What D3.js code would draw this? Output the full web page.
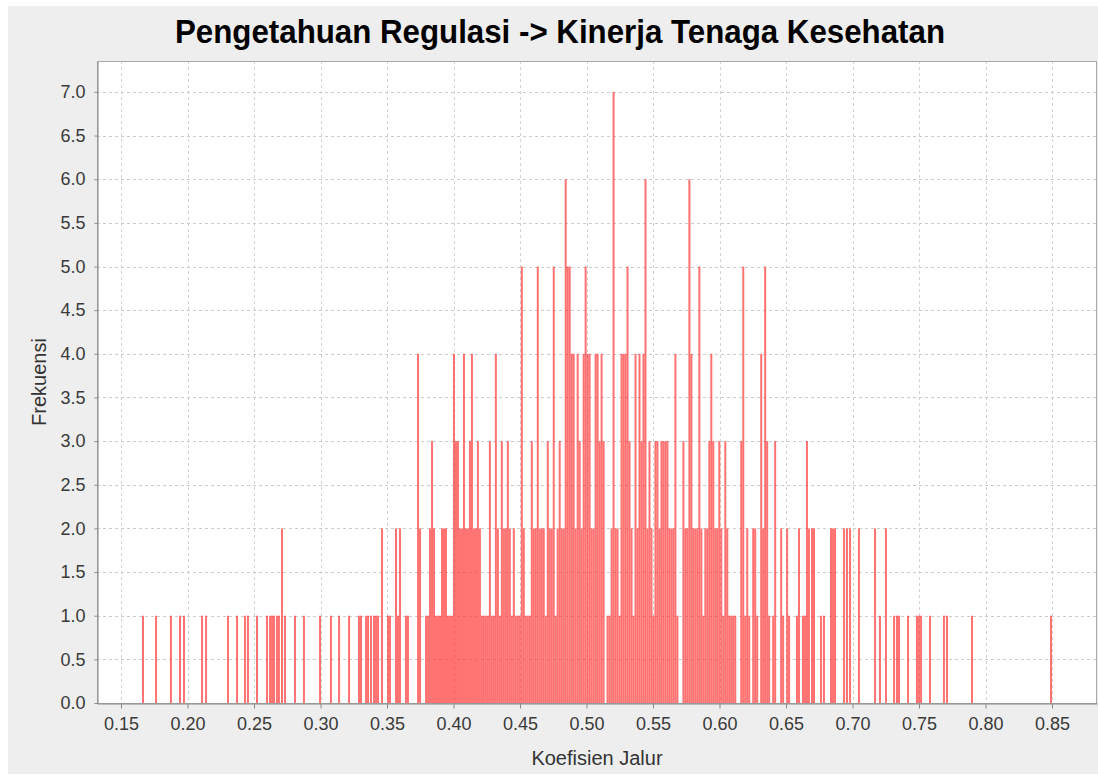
<!DOCTYPE html>
<html>
<head>
<meta charset="utf-8">
<script src="https://cdn.jsdelivr.net/npm/d3@7"></script>
<style>
  body { margin: 0; background: #fff; }
  svg { display: block; }
  text { font-family: "Liberation Sans", Arial, sans-serif; }
</style>
</head>
<body>
<svg id="chart" width="1098" height="781"></svg>
<script>
// data: bin start (koefisien) and frequency per bin
var koefisien = [
  0.1658,0.1756,0.1868,0.1936,0.1966,0.2102,0.2132,0.2297,0.2365,0.2425,0.2447,0.2515,
  0.2590,0.2613,0.2628,0.2643,0.2665,0.2680,0.2703,0.2726,0.2801,0.2868,0.2989,0.3071,
  0.3132,0.3207,0.3282,0.3297,0.3335,0.3350,0.3372,0.3395,0.3410,0.3425,0.3455,0.3500,
  0.3515,0.3560,0.3575,0.3590,0.3635,0.3650,0.3726,0.3741,
  0.3786,0.3801,0.3816,0.3831,0.3846,0.3861,0.3876,0.3891,0.3906,0.3921,
  0.3936,0.3951,0.3966,0.3981,0.3996,0.4011,0.4026,0.4041,0.4056,0.4071,
  0.4086,0.4101,0.4116,0.4131,0.4146,0.4161,0.4176,0.4191,0.4206,0.4221,
  0.4236,0.4251,0.4266,0.4281,0.4296,0.4311,0.4326,0.4341,0.4356,0.4371,
  0.4386,0.4401,0.4416,0.4431,0.4446,0.4461,0.4476,0.4491,0.4506,0.4521,
  0.4536,0.4551,0.4566,0.4581,0.4596,0.4611,0.4626,0.4641,0.4656,0.4671,
  0.4686,0.4701,0.4716,0.4731,0.4746,0.4761,0.4776,0.4791,0.4806,0.4821,
  0.4836,0.4851,0.4866,0.4881,0.4896,0.4911,0.4926,0.4941,0.4956,0.4971,
  0.4986,0.5001,0.5016,0.5031,0.5046,0.5061,0.5076,0.5091,0.5106,0.5121,
  0.5151,0.5166,0.5181,0.5196,0.5211,0.5226,0.5241,0.5256,0.5271,
  0.5286,0.5301,0.5316,0.5331,0.5346,0.5361,0.5376,0.5391,0.5406,0.5421,
  0.5436,0.5451,0.5466,0.5481,0.5496,0.5511,0.5526,0.5541,0.5556,0.5571,
  0.5586,0.5601,0.5616,0.5631,0.5646,0.5661,0.5676,0.5721,
  0.5736,0.5751,0.5766,0.5781,0.5796,0.5811,0.5826,0.5841,0.5856,0.5871,
  0.5886,0.5901,0.5916,0.5931,0.5946,0.5961,0.5976,0.5991,0.6006,
  0.6021,0.6036,0.6051,0.6066,0.6081,0.6096,0.6111,0.6156,0.6171,0.6186,0.6201,0.6216,
  0.6246,0.6261,0.6276,0.6306,0.6321,0.6336,0.6351,0.6366,0.6396,0.6411,0.6456,0.6471,
  0.6501,0.6516,0.6575,0.6590,0.6620,0.6635,0.6650,0.6665,0.6688,0.6703,0.6756,0.6778,
  0.6831,0.6846,0.6861,0.6929,0.6951,0.6974,0.7041,0.7162,0.7199,0.7244,0.7305,0.7327,
  0.7342,0.7410,0.7477,0.7492,0.7508,0.7575,0.7680,0.7703,0.7891,0.8485
];
var frekuensi = [
  1,1,1,1,1,1,1,1,1,1,1,1,
  1,1,1,1,1,1,2,1,1,1,1,1,
  1,1,1,1,1,1,1,1,1,1,2,1,
  1,2,1,2,1,1,4,2,
  1,1,2,3,2,1,1,1,2,2,
  2,1,1,1,4,3,3,2,2,4,
  2,2,3,4,2,2,3,2,1,1,
  1,1,3,1,1,4,2,1,3,2,
  2,3,2,1,2,1,1,1,5,2,
  1,1,1,3,2,2,5,2,2,2,
  1,3,2,2,5,1,2,3,2,2,
  6,5,5,4,4,2,4,3,2,4,
  5,4,4,2,2,4,4,3,4,3,
  1,1,2,7,2,2,1,4,4,
  4,5,3,2,1,4,2,4,3,4,
  6,2,3,2,1,3,3,2,3,3,
  3,3,2,2,2,4,1,3,
  2,2,6,4,2,2,2,5,2,1,
  2,2,3,4,3,2,2,3,2,
  1,3,2,1,1,1,1,3,5,1,2,1,
  2,2,1,4,2,5,3,1,1,3,2,1,
  2,1,1,2,1,1,3,2,2,2,1,1,
  2,2,2,2,2,2,2,2,1,2,1,1,
  1,1,1,1,1,1,1,1,1,1
];
var lebarBin = 0.0015;
var xTicks = [0.15,0.20,0.25,0.30,0.35,0.40,0.45,0.50,0.55,0.60,0.65,0.70,0.75,0.80,0.85];
var yTicks = [0,0.5,1,1.5,2,2.5,3,3.5,4,4.5,5,5.5,6,6.5,7];

var judul = 'Pengetahuan Regulasi -> Kinerja Tenaga Kesehatan';
var labelX = 'Koefisien Jalur';
var labelY = 'Frekuensi';

var svg = d3.select('#chart');
var plotL = 97, plotR = 1097, plotT = 61, plotB = 703;

// background panel
svg.append('rect').attr('x',8).attr('y',6).attr('width',1090).attr('height',768).attr('fill','#eeeeee');

var x = d3.scaleLinear().domain([0.13195,0.88383]).range([plotL,plotR]);
var y = d3.scaleLinear().domain([0,7.354]).range([plotB,plotT]);

svg.append('rect').attr('x',plotL).attr('y',plotT).attr('width',plotR-plotL).attr('height',plotB-plotT)
  .attr('fill','#ffffff');

// grid
svg.append('g').selectAll('line').data(xTicks).join('line')
  .attr('x1',function(d){return Math.round(x(d))+0.5;}).attr('x2',function(d){return Math.round(x(d))+0.5;})
  .attr('y1',plotT).attr('y2',plotB)
  .attr('stroke','#d2d2d2').attr('stroke-dasharray','3,3');
svg.append('g').selectAll('line').data(yTicks.filter(function(d){return d>0;})).join('line')
  .attr('x1',plotL).attr('x2',plotR)
  .attr('y1',function(d){return Math.round(y(d))+0.5;}).attr('y2',function(d){return Math.round(y(d))+0.5;})
  .attr('stroke','#cccccc').attr('stroke-dasharray','3,3');

// bars
var data = koefisien.map(function(k,i){return {k:k,f:frekuensi[i]};});
svg.append('g').selectAll('rect').data(data).join('rect')
  .attr('x',function(d){return x(d.k);})
  .attr('width',function(d){return Math.max(1,x(d.k+lebarBin)-x(d.k));})
  .attr('y',function(d){return y(d.f);})
  .attr('height',function(d){return y(0)-y(d.f);})
  .attr('fill','#ff3b3b').attr('fill-opacity',0.72);

// border
svg.append('rect').attr('x',plotL+0.5).attr('y',plotT+0.5).attr('width',plotR-plotL-1).attr('height',plotB-plotT)
  .attr('fill','none').attr('stroke','#a8a8a8');

// axes
var gx = svg.append('g').attr('transform','translate(0,'+(plotB+0.5)+')')
  .call(d3.axisBottom(x).tickValues(xTicks).tickFormat(d3.format('.2f')).tickSize(5).tickSizeOuter(0).tickPadding(9));
var gy = svg.append('g').attr('transform','translate('+(plotL+0.5)+',0)')
  .call(d3.axisLeft(y).tickValues(yTicks).tickFormat(d3.format('.1f')).tickSize(3).tickSizeOuter(0).tickPadding(9));
[gx,gy].forEach(function(g){
  g.select('.domain').attr('stroke','#888888');
  g.selectAll('.tick line').attr('stroke','#888888');
  g.selectAll('.tick text').attr('fill','#3a3a3a').attr('font-size',18)
    .attr('font-family','"Liberation Sans", Arial, sans-serif');
});

// titles
svg.append('text').attr('x',560).attr('y',43).attr('text-anchor','middle')
  .attr('font-size',34).attr('font-weight','bold').attr('fill','#000')
  .attr('textLength',770).attr('lengthAdjust','spacingAndGlyphs').text(judul);
svg.append('text').attr('x',597).attr('y',765).attr('text-anchor','middle')
  .attr('font-size',20).attr('fill','#333').text(labelX);
svg.append('text').attr('transform','translate(46,382) rotate(-90)').attr('text-anchor','middle')
  .attr('font-size',20).attr('fill','#333').text(labelY);
</script>
</body>
</html>
